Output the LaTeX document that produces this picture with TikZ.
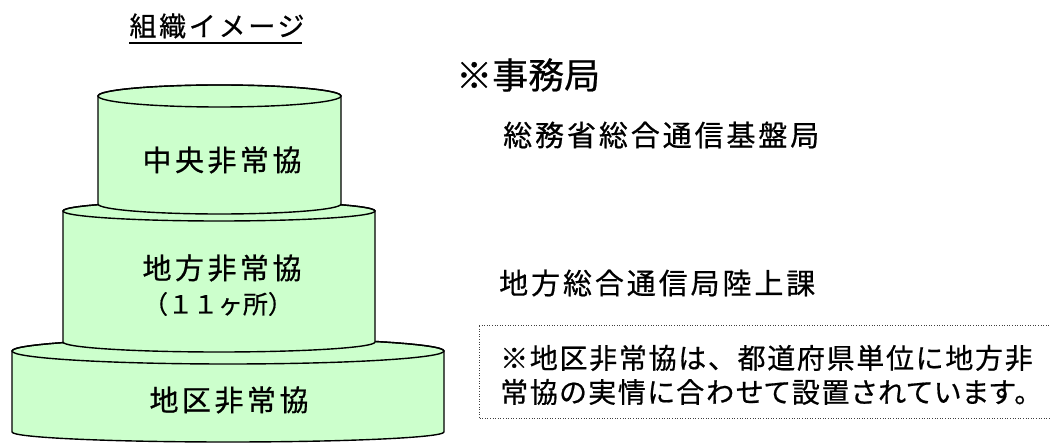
\documentclass[tikz,border=0pt]{standalone}
\usepackage{fontspec}
\newfontfamily\jpCyl{Noto Sans CJK JP}[LetterSpace=12,FakeBold=0.6]
\newfontfamily\jpTitle{Noto Sans CJK JP}[LetterSpace=10,FakeBold=0.6]
\newfontfamily\jpHead{Noto Sans CJK JP}[LetterSpace=0,FakeBold=0.6]
\newfontfamily\jpSub{Noto Sans CJK JP}[LetterSpace=10,FakeBold=0.6]
\newfontfamily\jpNote{Noto Sans CJK JP}[LetterSpace=6,FakeBold=0.6]
\newfontfamily\jpNoteP{Noto Sans CJK JP}[LetterSpace=6,RawFeature=+palt,FakeBold=0.6]
\newfontfamily\jpPlain{Noto Sans CJK JP}[FakeBold=0.6]
\definecolor{cylgreen}{HTML}{CCFFCC}
\begin{document}
\begin{tikzpicture}[x=1pt,y=1pt,
  cyl/.style={fill=cylgreen, draw=black, line width=1.4pt, line join=round},
  rim/.style={draw=black, line width=1.4pt},
  cyllabel/.style={font=\jpCyl\fontsize{29}{32}\selectfont, inner sep=0pt, text=black},
  sublabel/.style={font=\jpPlain\fontsize{25}{28}\selectfont, inner sep=0pt, text=black},
  title/.style={font=\jpTitle\fontsize{27}{30}\selectfont, inner sep=0pt, text=black},
  head/.style={font=\jpHead\fontsize{36}{40}\selectfont, inner sep=0pt, anchor=west, text=black},
  office/.style={font=\jpSub\fontsize{29}{32}\selectfont, inner sep=0pt, anchor=west, text=black},
  note/.style={font=\jpNote\fontsize{28}{31}\selectfont, inner sep=0pt, anchor=west, text=black},
  notep/.style={font=\jpNoteP\fontsize{28}{31}\selectfont, inner sep=0pt, anchor=west, text=black},
  notebox/.style={draw=black!75, line width=1pt, dash pattern=on 1pt off 1.6pt}
]
\useasboundingbox (0,0) rectangle (1050,442);
\clip (0,0) rectangle (1050,442);

% bottom cylinder
\path[cyl] (12,91) -- (12,10) arc[start angle=180, end angle=360, x radius=216, y radius=10]
  -- (444,91) arc[start angle=0, end angle=180, x radius=216, y radius=13] -- cycle;
\draw[rim] (228,91) ellipse[x radius=216, y radius=13];

% middle cylinder
\path[cyl] (63,231) -- (63,100) arc[start angle=180, end angle=360, x radius=156, y radius=10]
  -- (375,231) arc[start angle=0, end angle=180, x radius=156, y radius=10] -- cycle;
\draw[rim] (219,231) ellipse[x radius=156, y radius=10];

% top cylinder
\path[cyl] (98,346) -- (98,238) arc[start angle=180, end angle=360, x radius=121.5, y radius=10]
  -- (341,346) arc[start angle=0, end angle=180, x radius=121.5, y radius=11] -- cycle;
\draw[rim] (219.5,346) ellipse[x radius=121.5, y radius=11];

% labels in cylinders
\node[cyllabel] (central) at (222,282) {中央非常協};
\node[cyllabel] (regional) at (222,174) {地方非常協};
\node[sublabel] (count) at (218,138) {（１１ヶ所）};
\node[cyllabel] (district) at (229,42) {地区非常協};

% title
\node[title] (ttl) at (217,416) {組織イメージ};
\draw[line width=1.6pt] (129,399) -- (302,399);

% secretariat
\node[head] (sec) at (456,367) {※事務局};
\node[office] (hq) at (503,307) {総務省総合通信基盤局};
\node[office] (bureau) at (499,159) {地方総合通信局陸上課};

% note box
\draw[notebox] (479,116) -- (1060,116) (479,116) -- (479,23) -- (1060,23);
\node[note] (note1) at (500,84) {※地区非常協は、都道府県単位に地方非};
\node[notep] (note2) at (500,50) {常協の実情に合わせて設置されています。};
\end{tikzpicture}
\end{document}
